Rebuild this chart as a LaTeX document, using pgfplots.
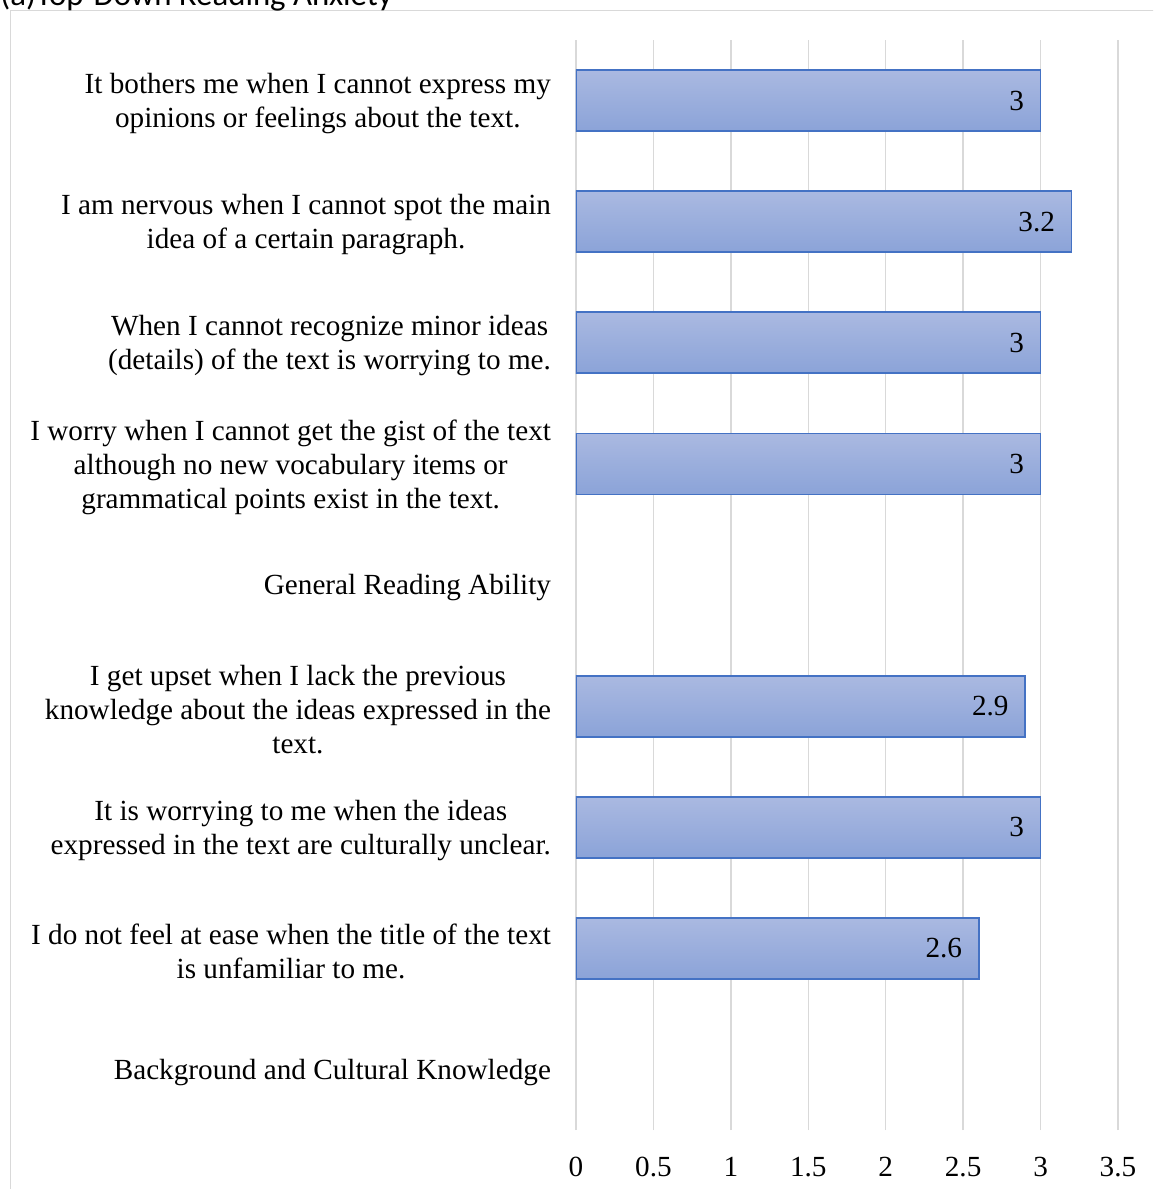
\documentclass[border=0pt]{standalone}
\usepackage{pgfplots}
\pgfplotsset{compat=1.18}
\usepackage{fontspec}
\setmainfont{Liberation Serif}
\newfontfamily\titlefont{Carlito}
\definecolor{barline}{HTML}{4472C4}
\definecolor{bartop}{HTML}{AAB9E1}
\definecolor{barbot}{HTML}{8BA3D8}
\definecolor{gridgray}{HTML}{D9D9D9}
\pgfplotsset{barstyle/.style={draw=barline, line width=0.9pt, top color=bartop, bottom color=barbot}}

\begin{document}
% 1 px of the reference = 0.5pt
\begin{tikzpicture}
  \useasboundingbox (0,0) rectangle (576.5pt,-594.5pt);
  \clip (0,0) rectangle (576.5pt,-594.5pt);
  \draw[gridgray, line width=0.8pt] (5.2pt,-600pt) -- (5.2pt,-5.2pt) -- (600pt,-5.2pt);
  \node[anchor=base west, inner sep=0pt, font=\titlefont\fontsize{16.4}{19}\selectfont]
    at (0pt,-2.5pt) {(a)Top-Down Reading Anxiety};
  \begin{axis}[
      at={(288pt,-565pt)}, anchor=south west,
      scale only axis, width=271pt, height=545pt,
      xbar, bar width=30.5pt, bar shift=0pt,
      xmin=0, xmax=3.5, ymin=-0.5, ymax=8.5,
      xtick={0,0.5,...,3.5},
      ytick={0,1,...,8},
      yticklabels={
        Background and Cultural Knowledge,
        {I do not feel at ease when the title of the text\\is unfamiliar to me.},
        {It is worrying to me when the ideas\\expressed in the text are culturally unclear.},
        {I get upset when I lack the previous\\knowledge about the ideas expressed in the\\text.},
        General Reading Ability,
        {I worry when I cannot get the gist of the text\\although no new vocabulary items or\\grammatical points exist in the text.},
        {When I cannot recognize minor ideas\\(details) of the text is worrying to me.},
        {I am nervous when I cannot spot the main\\idea of a certain paragraph.},
        {It bothers me when I cannot express my\\opinions or feelings about the text.}},
      axis line style={draw=none},
      major tick length=0pt,
      xmajorgrids, ymajorgrids=false,
      major grid style={gridgray, line width=0.75pt},
      /pgf/number format/assume math mode=true,
      ticklabel style={font=\fontsize{14.6}{17}\selectfont},
      yticklabel style={align=center, anchor=east, xshift=-9pt, yshift=-1.5pt},
      xticklabel style={anchor=north, yshift=-10pt},
      nodes near coords,
      every node near coord/.append style={anchor=east, xshift=-4.5pt,
        font=\fontsize{14.6}{17}\selectfont, black},
    ]
    % one bar per plot so that every bar gets its own shading
    \addplot[barstyle] coordinates {(2.6,1)};
    \addplot[barstyle] coordinates {(3,2)};
    \addplot[barstyle] coordinates {(2.9,3)};
    \addplot[barstyle] coordinates {(3,5)};
    \addplot[barstyle] coordinates {(3,6)};
    \addplot[barstyle] coordinates {(3.2,7)};
    \addplot[barstyle] coordinates {(3,8)};
  \end{axis}
\end{tikzpicture}
\end{document}
